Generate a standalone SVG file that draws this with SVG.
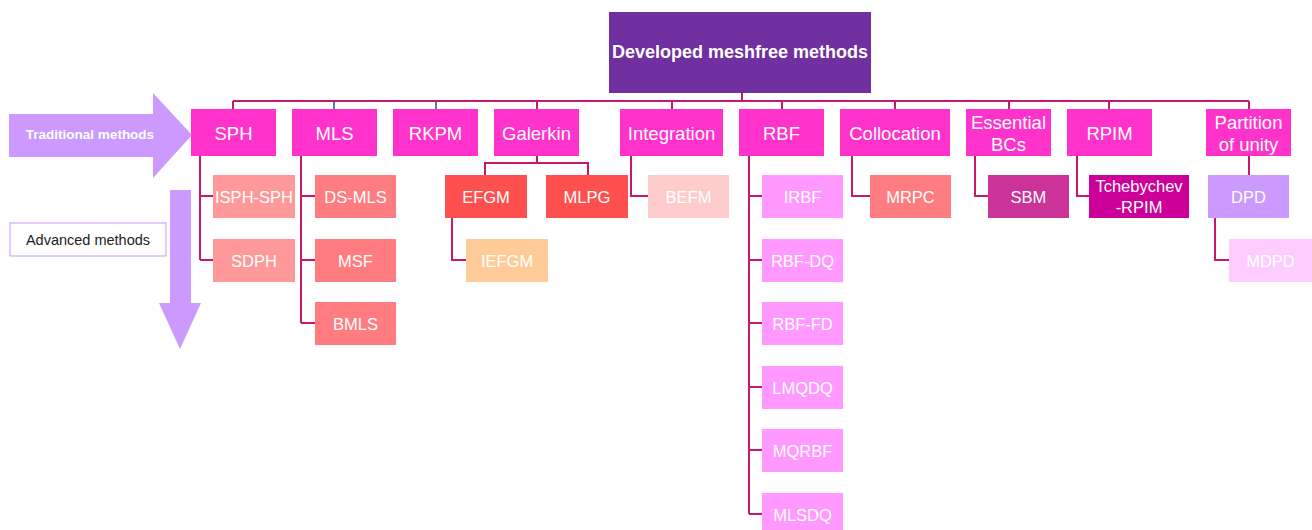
<svg xmlns="http://www.w3.org/2000/svg" width="1312" height="530" viewBox="0 0 1312 530">
<style>
text{font-family:"Liberation Sans",Arial,sans-serif;fill:#fff;text-anchor:middle;dominant-baseline:central}
.l1 rect{fill:#ff33cc}
.l1 text{font-size:18.5px}
.l2 text{font-size:16.5px}
.c{fill:none;stroke:#c8186c;stroke-width:2}
.cb{fill:none;stroke:#4f7fa8;stroke-width:2}
</style>
<rect width="1312" height="530" fill="#fff"/>
<!-- left arrows -->
<g id="traditional">
<polygon points="9,114 153,114 153,93 192,135 153,178 153,157 9,157" fill="#cc99ff"/>
<text x="90" y="134" style="font-size:13.5px;font-weight:bold">Traditional methods</text>
</g>
<g id="advanced-arrow">
<polygon points="170,190 191,190 191,303 201,303 180,349 159,303 170,303" fill="#cc99ff"/>
</g>
<g id="advanced">
<rect x="10" y="223" width="156" height="33" fill="#fff" stroke="#cc99ff" stroke-width="1"/>
<text x="88" y="240" style="font-size:14.5px;fill:#222">Advanced methods</text>
</g>
<!-- connectors -->
<g id="connectors">
<path class="c" d="M742,93V101M233,101H1249M233,101V109M537,101V109M672,101V109M782,101V109M895,101V109M1009,101V109M1109,101V109M1249,101V109"/>
<path class="cb" d="M334,102V109M436,102V109"/>
<path class="c" d="M200,156V260M200,196H213M200,260H213"/>
<path class="c" d="M301,156V323M301,196H315M301,260H315M301,323H315"/>
<path class="c" d="M537,156V163M485,175V163H588V175"/>
<path class="c" d="M452,218V260H466"/>
<path class="c" d="M631,156V196H648"/>
<path class="c" d="M749,156V514M749,196H762M749,260H762M749,323H762M749,387H762M749,450H762M749,514H762"/>
<path class="c" d="M852,156V196H870"/>
<path class="c" d="M975,156V196H988"/>
<path class="c" d="M1077,156V196H1089"/>
<path class="c" d="M1249,156V175"/>
<path class="c" d="M1215,218V260H1229"/>
</g>
<!-- top -->
<g id="root">
<rect x="609" y="12" width="262" height="81" fill="#7030a0"/>
<text x="740" y="52" style="font-size:18px;font-weight:bold">Developed meshfree methods</text>
</g>
<!-- level 1 -->
<g id="sph" class="l1"><rect x="191" y="109" width="85" height="47"/><text x="233.5" y="133">SPH</text></g>
<g id="mls" class="l1"><rect x="292" y="109" width="85" height="47"/><text x="334.5" y="133">MLS</text></g>
<g id="rkpm" class="l1"><rect x="393" y="109" width="85" height="47"/><text x="435.5" y="133">RKPM</text></g>
<g id="galerkin" class="l1"><rect x="494" y="109" width="85" height="47"/><text x="536.5" y="133">Galerkin</text></g>
<g id="integration" class="l1"><rect x="620" y="109" width="103" height="47"/><text x="671.5" y="133">Integration</text></g>
<g id="rbf" class="l1"><rect x="739" y="109" width="85" height="47"/><text x="781.5" y="133">RBF</text></g>
<g id="collocation" class="l1"><rect x="840" y="109" width="110" height="47"/><text x="895" y="133">Collocation</text></g>
<g id="essential" class="l1"><rect x="966" y="109" width="85" height="47"/><text x="1008.5" y="122">Essential</text><text x="1008.5" y="144">BCs</text></g>
<g id="rpim" class="l1"><rect x="1067" y="109" width="85" height="47"/><text x="1109.5" y="133">RPIM</text></g>
<g id="partition" class="l1"><rect x="1206" y="109" width="85" height="47"/><text x="1248.5" y="122">Partition</text><text x="1248.5" y="144">of unity</text></g>
<!-- level 2 -->
<g id="isph" class="l2"><rect x="213" y="175" width="82" height="43" fill="#ff9999"/><text x="254" y="197">ISPH-SPH</text></g>
<g id="sdph" class="l2"><rect x="213" y="239" width="82" height="43" fill="#ff9999"/><text x="254" y="261">SDPH</text></g>
<g id="dsmls" class="l2"><rect x="315" y="175" width="81" height="43" fill="#ff7c80"/><text x="355.5" y="197">DS-MLS</text></g>
<g id="msf" class="l2"><rect x="315" y="239" width="81" height="43" fill="#ff7c80"/><text x="355.5" y="261">MSF</text></g>
<g id="bmls" class="l2"><rect x="315" y="302" width="81" height="43" fill="#ff7c80"/><text x="355.5" y="324">BMLS</text></g>
<g id="efgm" class="l2"><rect x="445" y="175" width="82" height="43" fill="#ff5050"/><text x="486" y="197">EFGM</text></g>
<g id="mlpg" class="l2"><rect x="546" y="175" width="82" height="43" fill="#ff5050"/><text x="587" y="197">MLPG</text></g>
<g id="iefgm" class="l2"><rect x="466" y="239" width="82" height="43" fill="#ffcc99"/><text x="507" y="261">IEFGM</text></g>
<g id="befm" class="l2"><rect x="648" y="175" width="81" height="43" fill="#ffcccc"/><text x="688.5" y="197">BEFM</text></g>
<g id="irbf" class="l2"><rect x="762" y="175" width="81" height="43" fill="#ff99ff"/><text x="802.5" y="197">IRBF</text></g>
<g id="rbfdq" class="l2"><rect x="762" y="239" width="81" height="43" fill="#ff99ff"/><text x="802.5" y="261">RBF-DQ</text></g>
<g id="rbffd" class="l2"><rect x="762" y="302" width="81" height="43" fill="#ff99ff"/><text x="802.5" y="324">RBF-FD</text></g>
<g id="lmqdq" class="l2"><rect x="762" y="366" width="81" height="43" fill="#ff99ff"/><text x="802.5" y="388">LMQDQ</text></g>
<g id="mqrbf" class="l2"><rect x="762" y="429" width="81" height="43" fill="#ff99ff"/><text x="802.5" y="451">MQRBF</text></g>
<g id="mlsdq" class="l2"><rect x="762" y="493" width="81" height="43" fill="#ff99ff"/><text x="802.5" y="515">MLSDQ</text></g>
<g id="mrpc" class="l2"><rect x="870" y="175" width="81" height="43" fill="#ff7c80"/><text x="910.5" y="197">MRPC</text></g>
<g id="sbm" class="l2"><rect x="988" y="175" width="81" height="43" fill="#cc3399"/><text x="1028.5" y="197">SBM</text></g>
<g id="tcheby" class="l2"><rect x="1089" y="175" width="100" height="43" fill="#cc0099"/><text x="1139" y="186">Tchebychev</text><text x="1139" y="207">-RPIM</text></g>
<g id="dpd" class="l2"><rect x="1208" y="175" width="81" height="43" fill="#cc99ff"/><text x="1248.5" y="197">DPD</text></g>
<g id="mdpd" class="l2"><rect x="1229" y="239" width="83" height="43" fill="#ffccff"/><text x="1270.5" y="261">MDPD</text></g>
</svg>
